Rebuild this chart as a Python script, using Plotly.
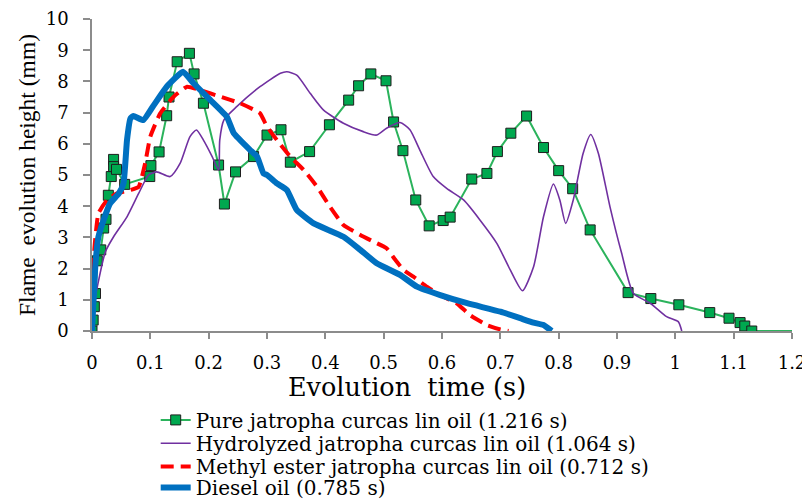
import plotly.graph_objects as go

# --- Data ---
pure_x = [0, 0.002, 0.004, 0.006, 0.009, 0.015, 0.02, 0.024, 0.028, 0.033, 0.037, 0.037, 0.042,
          0.056, 0.099, 0.101, 0.115, 0.128, 0.132, 0.146, 0.167, 0.175, 0.191, 0.217, 0.227,
          0.246, 0.277, 0.3, 0.324, 0.34, 0.373, 0.407, 0.44, 0.457, 0.478, 0.504, 0.517,
          0.533, 0.555, 0.578, 0.602, 0.614, 0.651, 0.677, 0.695, 0.718, 0.745, 0.774, 0.8,
          0.824, 0.854, 0.919, 0.958, 1.006, 1.059, 1.092, 1.111, 1.119, 1.131]
pure_y = [0, 0.35, 0.78, 1.2, 2.25, 2.6, 3.3, 3.58, 4.35, 4.95, 5.5, 5.27, 5.18,
          4.7, 4.95, 5.3, 5.74, 6.9, 7.5, 8.63, 8.9, 8.24, 7.3, 5.32, 4.07,
          5.1, 5.59, 6.28, 6.45, 5.41, 5.75, 6.61, 7.4, 7.86, 8.24, 8.02, 6.7,
          5.78, 4.2, 3.37, 3.54, 3.65, 4.87, 5.05, 5.75, 6.34, 6.89, 5.88, 5.14,
          4.56, 3.24, 1.23, 1.04, 0.84, 0.59, 0.41, 0.27, 0.16, 0]
pure_tail_x = [1.131, 1.2]
pure_tail_y = [0, 0]

hydro_x = [0, 0.005, 0.023, 0.037, 0.06, 0.08, 0.097, 0.111, 0.134, 0.151, 0.168, 0.179,
           0.191, 0.206, 0.217, 0.219, 0.226, 0.248, 0.288, 0.323, 0.334, 0.351, 0.374,
           0.397, 0.431, 0.465, 0.488, 0.505, 0.528, 0.545, 0.562, 0.585, 0.608, 0.637,
           0.665, 0.694, 0.717, 0.738, 0.757, 0.774, 0.791, 0.802, 0.812, 0.825, 0.842,
           0.855, 0.868, 0.888, 0.908, 0.928, 0.957, 0.985, 1.005, 1.011]
hydro_y = [0, 1.0, 2.54, 3.02, 3.66, 4.41, 5.0, 5.1, 4.95, 5.37, 6.23, 6.44,
           6.12, 5.59, 5.16, 6.12, 6.76, 7.19, 7.83, 8.26, 8.31, 8.2, 7.62,
           7.08, 6.66, 6.39, 6.28, 6.5, 6.68, 6.45, 5.8, 4.95, 4.57, 4.2,
           3.56, 2.81, 1.96, 1.29, 2.06, 3.66, 4.71, 4.2, 3.45, 4.2, 5.7,
           6.3, 5.7, 3.98, 2.49, 1.21, 0.89, 0.46, 0.3, 0]

methyl_x = [0, 0.004, 0.011, 0.026, 0.043, 0.066, 0.08, 0.091, 0.1, 0.117, 0.14, 0.163,
            0.186, 0.22, 0.254, 0.288, 0.3, 0.317, 0.34, 0.363, 0.386, 0.408, 0.431, 0.46,
            0.483, 0.505, 0.52, 0.534, 0.551, 0.574, 0.597, 0.625, 0.648, 0.677, 0.7, 0.714]
methyl_y = [0, 2.6, 3.77, 4.2, 4.41, 4.52, 4.62, 5.37, 6.23, 6.98, 7.51, 7.83,
            7.72, 7.51, 7.3, 6.98, 6.55, 6.12, 5.59, 5.16, 4.62, 3.98, 3.4, 3.08,
            2.86, 2.65, 2.28, 1.96, 1.74, 1.42, 1.15, 0.89, 0.51, 0.19, 0.05, 0]

diesel_x = [0, 0.003, 0.006, 0.011, 0.02, 0.031, 0.046, 0.054, 0.06, 0.066, 0.071, 0.088,
            0.106, 0.128, 0.156, 0.174, 0.203, 0.231, 0.243, 0.271, 0.283, 0.294, 0.3,
            0.317, 0.334, 0.351, 0.38, 0.431, 0.46, 0.488, 0.528, 0.557, 0.597, 0.643,
            0.7, 0.734, 0.757, 0.774, 0.788]
diesel_y = [0, 1.1, 2.17, 3.02, 3.56, 4.09, 4.41, 4.73, 6.12, 6.82, 6.89, 6.76,
            7.24, 7.83, 8.31, 7.94, 7.4, 6.87, 6.34, 5.8, 5.59, 5.05, 5.0,
            4.73, 4.52, 3.88, 3.45, 3.02, 2.6, 2.17, 1.8, 1.42, 1.15, 0.89,
            0.62, 0.41, 0.27, 0.19, 0]

labels = ["Pure jatropha curcas lin oil (1.216 s)",
          "Hydrolyzed jatropha curcas lin oil (1.064 s)",
          "Methyl ester jatropha curcas lin oil (0.712 s)",
          "Diesel oil (0.785 s)"]

x_ticks = [0, 0.1, 0.2, 0.3, 0.4, 0.5, 0.6, 0.7, 0.8, 0.9, 1, 1.1, 1.2]
x_ticktext = ["0", "0.1", "0.2", "0.3", "0.4", "0.5", "0.6", "0.7", "0.8", "0.9", "1", "1.1", "1.2"]
y_ticks = list(range(0, 11))

SERIF = "Liberation Serif, Times New Roman, serif"
WIDE = "DejaVu Serif, serif"
AXIS_GREY = "#8c8c8c"

fig = go.Figure()

# green tail along zero (no markers)
fig.add_trace(go.Scatter(
    x=pure_tail_x, y=pure_tail_y, mode="lines",
    line=dict(color="#2bb35c", width=2), showlegend=False, hoverinfo="skip"
))

fig.add_trace(go.Scatter(
    x=pure_x, y=pure_y, mode="lines+markers", name=labels[0], legend="legend",
    line=dict(color="#2bb35c", width=2),
    marker=dict(symbol="square", size=10, color="#00a84f",
                line=dict(color="#1e1e1e", width=1))
))

fig.add_trace(go.Scatter(
    x=hydro_x, y=hydro_y, mode="lines", name=labels[1], legend="legend2",
    line=dict(color="#7030a0", width=1.6, shape="spline", smoothing=0.6)
))

fig.add_trace(go.Scatter(
    x=methyl_x, y=methyl_y, mode="lines", name=labels[2], legend="legend3",
    line=dict(color="#ff0000", width=4, dash="13px,7px", shape="spline", smoothing=0.4)
))

fig.add_trace(go.Scatter(
    x=diesel_x, y=diesel_y, mode="lines", name=labels[3], legend="legend4",
    line=dict(color="#0070c0", width=6, shape="spline", smoothing=0.4)
))

# one legend per row so row spacing can match the reference
legend_rows = [-0.285, -0.36, -0.434, -0.502]
leg_common = dict(x=0.091, xanchor="left", yanchor="middle", orientation="v",
                  font=dict(family=WIDE, size=20, color="black"),
                  bgcolor="rgba(0,0,0,0)", itemwidth=30)

# page body has an 8px margin, so the figure is 8px smaller than the window
fig.update_layout(
    width=802, height=491,
    margin=dict(l=84, r=18, t=11, b=168, autoexpand=False),
    paper_bgcolor="white", plot_bgcolor="white",
    font=dict(family=WIDE, color="black"),
    showlegend=True,
    legend=dict(y=legend_rows[0], **leg_common),
    legend2=dict(y=legend_rows[1], **leg_common),
    legend3=dict(y=legend_rows[2], **leg_common),
    legend4=dict(y=legend_rows[3], **leg_common),
    xaxis=dict(
        range=[0, 1.2], tickvals=x_ticks, ticktext=x_ticktext,
        showgrid=False, zeroline=False, automargin=False,
        showline=True, linecolor=AXIS_GREY, linewidth=1.5,
        ticks="outside", ticklen=6, tickcolor=AXIS_GREY, tickwidth=1.5,
        tickfont=dict(family=WIDE, size=18, color="black"),
        ticklabelstandoff=9,
    ),
    yaxis=dict(
        range=[0, 10], tickvals=y_ticks,
        showgrid=False, zeroline=False, automargin=False,
        showline=True, linecolor=AXIS_GREY, linewidth=1.5,
        ticks="outside", ticklen=7, tickcolor=AXIS_GREY, tickwidth=1.5,
        tickfont=dict(family=WIDE, size=18, color="black"),
        ticklabelstandoff=11,
        title=dict(text="Flame\u00a0\u00a0evolution height (mm)", font=dict(family=SERIF, size=23.5, color="black"),
                   standoff=4)
    ),
)

# x axis title sits left of the axis centre in the reference
fig.add_annotation(
    text="Evolution\u00a0\u00a0time (s)", xref="paper", yref="paper",
    x=0.45, y=-0.178, xanchor="center", yanchor="middle", showarrow=False,
    font=dict(family=WIDE, size=25.5, color="black")
)

fig.write_html("out.html")
